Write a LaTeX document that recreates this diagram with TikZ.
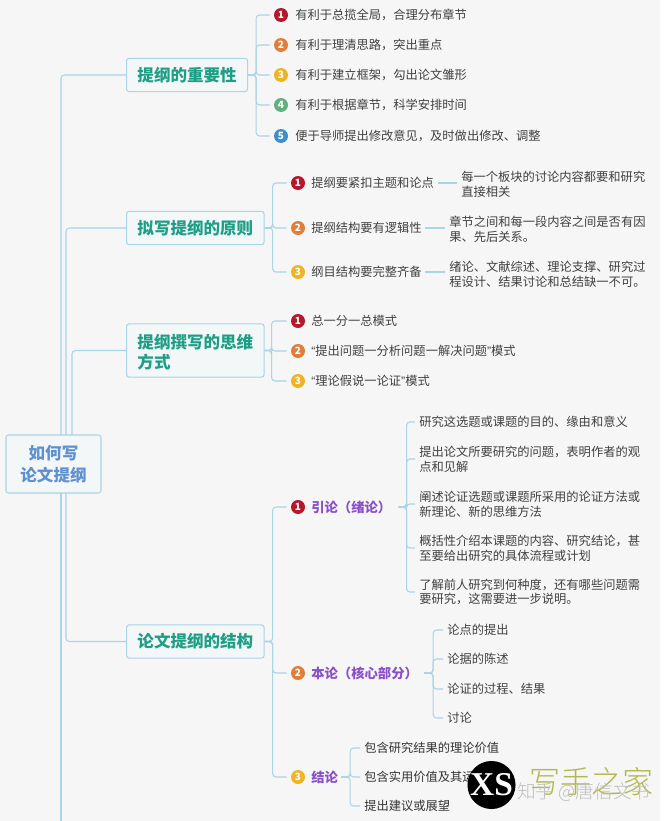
\documentclass[tikz,border=0pt]{standalone}
\usepackage{fontspec}
\setmainfont{Noto Sans CJK SC}
\newfontfamily\latq{Liberation Sans}
\newfontfamily\serifb{Liberation Serif}
\newfontfamily\lightf{Noto Sans CJK SC Light}
\newcommand{\pxf}[2]{\fontsize{#1}{#2}\selectfont}
\newcommand{\oq}{{\latq “}}
\newcommand{\cq}{{\latq ”}}
\definecolor{bgc}{HTML}{F6F6F7}
\definecolor{linec}{HTML}{A9D5E4}
\definecolor{boxf}{HTML}{F3F7F8}
\definecolor{tealc}{HTML}{1F9E86}
\definecolor{rootc}{HTML}{5F90CF}
\definecolor{purp}{HTML}{8A50C8}
\definecolor{txtc}{HTML}{404040}
\definecolor{cred}{HTML}{B5182D}
\definecolor{corg}{HTML}{E07E3C}
\definecolor{cyel}{HTML}{EEB425}
\definecolor{cgrn}{HTML}{62B07F}
\definecolor{cblu}{HTML}{3D8FC6}
\definecolor{olive}{HTML}{B4B84C}
\tikzset{
  conn/.style={draw=linec,line width=0.8pt,rounded corners=2.5pt},
  gapline/.style={conn,shorten >=3pt},
  sideline/.style={conn,shorten >=3pt,shorten <=2.5pt},
  headbox/.style={draw=linec,fill=boxf,line width=0.8pt,rounded corners=2pt,anchor=west,align=left,
    inner xsep=8.2pt,inner ysep=0pt,minimum height=25pt,text=tealc,font=\pxf{12.4pt}{15pt}\bfseries},
  rootbox/.style={draw=linec,fill=boxf,line width=0.8pt,rounded corners=2pt,align=center,
    minimum width=71.25pt,minimum height=43.5pt,inner sep=0pt,text=rootc,font=\pxf{12.4pt}{16.5pt}\bfseries},
  badge/.style={circle,fill=#1,minimum size=10.5pt,inner sep=0pt,text=white,font=\pxf{7.5pt}{8pt}\bfseries},
  txt/.style={anchor=west,inner sep=0pt,align=left,text=txtc,font=\pxf{9.2pt}{11pt}},
  purple label/.style={anchor=west,inner sep=0pt,text=purp,font=\pxf{10pt}{11pt}\bfseries},
}
\begin{document}
\begin{tikzpicture}[x=0.75pt,y=-0.75pt]
\useasboundingbox (0,0) rectangle (665,821);
\fill[white] (0,0) rectangle (665,821);
\fill[bgc] (0,0) rectangle (660,821);

% root and first level
\node[rootbox] (root) at (53.5,464) {如何写\\论文提纲};
\node[headbox] (h1) at (126,75) {提纲的重要性};
\node[headbox] (h2) at (126,228) {拟写提纲的原则};
\node[headbox,minimum height=40pt] (h3) at (126,350.5) {\rule{0pt}{13.5pt}提纲撰写的思维\\方式};
\node[headbox] (h4) at (126,641.5) {论文提纲的结构};
\coordinate (ta) at (61,435);
\coordinate (tb) at (66,435);
\coordinate (tc) at (72,435);
\coordinate (td) at (66,493);
\coordinate (te) at (61,493);
\coordinate (tf) at (61,821);
\draw[conn] (ta) |- (h1.west);
\draw[conn] (tb) |- (h2.west);
\draw[conn] (tc) |- (h3.west);
\draw[conn] (td) |- (h4.west);
\draw[conn] (te) -- (tf);

% branch 1
\node[badge=cred] (a1) at (281,15) {1};
\node[badge=corg] (a2) at (281,45) {2};
\node[badge=cyel] (a3) at (281,75) {3};
\node[badge=cgrn] (a4) at (281,105) {4};
\node[badge=cblu] (a5) at (281,136) {5};
\node[txt] at (295,15) {有利于总揽全局，合理分布章节};
\node[txt] at (295,45) {有利于理清思路，突出重点};
\node[txt] at (295,75) {有利于建立框架，勾出论文雏形};
\node[txt] at (295,105) {有利于根据章节，科学安排时间};
\node[txt] at (295,136) {便于导师提出修改意见，及时做出修改、调整};
\foreach \n in {a1,a2,a3,a4,a5}
  \draw[gapline] (h1.east) -- ++(8,0) |- (\n.west);

% branch 2
\node[badge=cred] (b1) at (298,183) {1};
\node[badge=corg] (b2) at (298,228) {2};
\node[badge=cyel] (b3) at (298,272) {3};
\node[txt] (bt1) at (311,183) {提纲要紧扣主题和论点};
\node[txt] (bt2) at (311,228) {提纲结构要有逻辑性};
\node[txt] (bt3) at (311,272) {纲目结构要完整齐备};
\node[txt] (bd1) at (461,184.5) {每一个板块的讨论内容都要和研究\\直接相关};
\node[txt] (bd2) at (449,229) {章节之间和每一段内容之间是否有因\\果、先后关系。};
\node[txt] (bd3) at (449,274) {绪论、文献综述、理论支撑、研究过\\程设计、结果讨论和总结缺一不可。};
\foreach \n in {b1,b2,b3}
  \draw[gapline] (h2.east) -- ++(8,0) |- (\n.west);
\draw[sideline] (bt1.east) -- (bt1.east -| bd1.west);
\draw[sideline] (bt2.east) -- (bt2.east -| bd2.west);
\draw[sideline] (bt3.east) -- (bt3.east -| bd3.west);

% branch 3
\node[badge=cred] (c1) at (298,321) {1};
\node[badge=corg] (c2) at (298,351) {2};
\node[badge=cyel] (c3) at (298,381) {3};
\node[txt] at (311,321) {总一分一总模式};
\node[txt] at (311,351) {\oq 提出问题一分析问题一解决问题\cq 模式};
\node[txt] at (311,381) {\oq 理论假说一论证\cq 模式};
\foreach \n in {c1,c2,c3}
  \draw[gapline] (h3.east) -- ++(7,0) |- (\n.west);

% branch 4
\node[badge=cred] (d1) at (298,507) {1};
\node[badge=corg] (d2) at (298,673) {2};
\node[badge=cyel] (d3) at (298,777) {3};
\node[purple label] (dt1) at (311,507) {引论（绪论）};
\node[purple label] (dt2) at (311,673) {本论（核心部分）};
\node[purple label] (dt3) at (311,777) {结论};
\foreach \n in {d1,d2,d3}
  \draw[gapline] (h4.east) -- ++(8,0) |- (\n.west);

% intro children
\node[txt] (e1) at (419,422) {研究这选题或课题的目的、缘由和意义};
\node[txt] (e2) at (419,459) {提出论文所要研究的问题，表明作者的观\\点和见解};
\node[txt] (e3) at (419,504) {阐述论证选题或课题所采用的论证方法或\\新理论、新的思维方法};
\node[txt] (e4) at (419,548) {概括性介绍本课题的内容、研究结论，甚\\至要给出研究的具体流程或计划};
\node[txt] (e5) at (419,592) {了解前人研究到何种度，还有哪些问题需\\要研究，这需要进一步说明。};
\foreach \n in {e1,e2,e3,e4,e5}
  \draw[gapline] (dt1.east) ++(7,0) -- ++(8,0) |- (\n.west);

% body children
\node[txt] (f1) at (447,630) {论点的提出};
\node[txt] (f2) at (447,659) {论据的陈述};
\node[txt] (f3) at (447,689) {论证的过程、结果};
\node[txt] (f4) at (447,718) {讨论};
\foreach \n in {f1,f2,f3,f4}
  \draw[gapline] (dt2.east) ++(6,0) -- ++(9,0) |- (\n.west);

% conclusion children
\node[txt,text=black!80] (g1) at (364,748) {包含研究结果的理论价值};
\node[txt,text=black!80] (g2) at (364,777) {包含实用价值及其运用};
\node[txt,text=black!80] (g3) at (364,806) {提出建议或展望};
\foreach \n in {g1,g2,g3}
  \draw[gapline] (dt3.east) ++(3,0) -- ++(9,0) |- (\n.west);

% watermark
\node[circle,fill=black,minimum size=35.5pt,inner sep=0pt,text=white,font=\serifb\pxf{25pt}{26pt}\bfseries] (mark) at (491.5,785) {XS};
\node[inner sep=0pt,anchor=west,text=olive,font=\lightf\pxf{23.3pt}{26pt}] (wm) at (529,782) {写手之家};
\node[inner sep=0pt,anchor=west,text=black!25,font=\lightf\pxf{14pt}{16pt}] (zh) at (517,792) {知乎 @唐信文书};
\end{tikzpicture}
\end{document}
